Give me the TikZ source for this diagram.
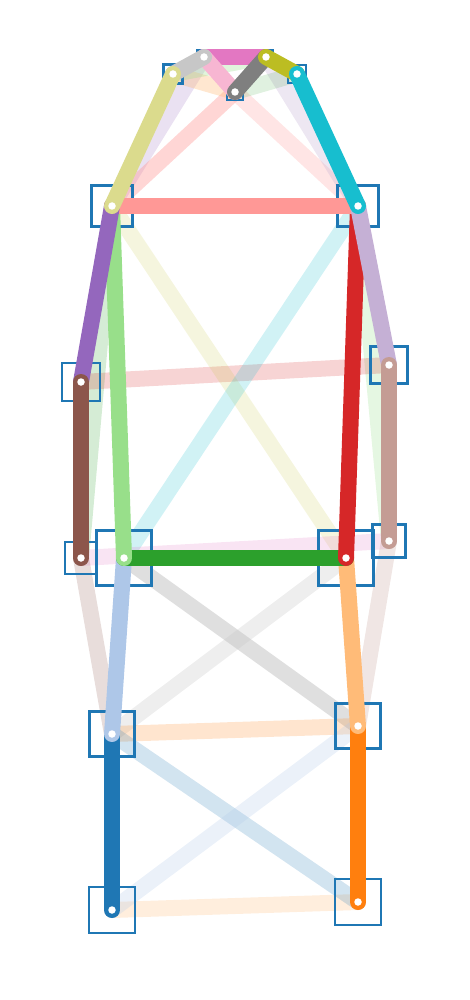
\documentclass[tikz,border=0pt]{standalone}
\definecolor{tblue}{HTML}{1F77B4}
\definecolor{tlblue}{HTML}{AEC7E8}
\definecolor{torange}{HTML}{FF7F0E}
\definecolor{tlorange}{HTML}{FFBB78}
\definecolor{tgreen}{HTML}{2CA02C}
\definecolor{tlgreen}{HTML}{98DF8A}
\definecolor{tred}{HTML}{D62728}
\definecolor{tlred}{HTML}{FF9896}
\definecolor{tpurple}{HTML}{9467BD}
\definecolor{tlpurple}{HTML}{C5B0D5}
\definecolor{tbrown}{HTML}{8C564B}
\definecolor{tlbrown}{HTML}{C49C94}
\definecolor{tpink}{HTML}{E377C2}
\definecolor{tlpink}{HTML}{F7B6D2}
\definecolor{tgray}{HTML}{7F7F7F}
\definecolor{tlgray}{HTML}{C7C7C7}
\definecolor{tolive}{HTML}{BCBD22}
\definecolor{tlolive}{HTML}{DBDB8D}
\definecolor{tcyan}{HTML}{17BECF}
\begin{document}
\begin{tikzpicture}[x=1pt,y=-1pt,
  limb/.style={line width=16pt,line cap=round},
  faint/.style={line width=16pt,line cap=round},
  kbox/.style={draw=tblue,line width=2.5pt,inner sep=0pt,rectangle},
  kdot/.style={circle,fill=white,inner sep=0pt,minimum size=7.5pt}]
\useasboundingbox (0,0) rectangle (469,1000);
% keypoints
\coordinate (nose) at (235,92);
\coordinate (ley) at (204,57);
\coordinate (rey) at (266,57);
\coordinate (lea) at (173,74);
\coordinate (rea) at (297,74);
\coordinate (lsh) at (112,206);
\coordinate (rsh) at (358,206);
\coordinate (lel) at (81,382);
\coordinate (rel) at (389,365);
\coordinate (lwr) at (81,558);
\coordinate (rwr) at (389,541);
\coordinate (lhp) at (124,558);
\coordinate (rhp) at (346,558);
\coordinate (lkn) at (112,734);
\coordinate (rkn) at (358,726);
\coordinate (lan) at (112,910);
\coordinate (ran) at (358,902);
% faint links
\draw[faint,draw=tpurple,draw opacity=0.2] (ley) -- (lsh);
\draw[faint,draw=tlred,draw opacity=0.4] (nose) -- (lsh);
\draw[faint,draw=tlred,draw opacity=0.25] (nose) -- (rsh);
\draw[faint,draw=tlpurple,draw opacity=0.3] (rey) -- (rsh);
\draw[faint,draw=tlorange,draw opacity=0.35] (lea) -- (nose);
\draw[faint,draw=tgreen,draw opacity=0.15] (nose) -- (rea);
\draw[faint,draw=tlgreen,draw opacity=0.3] (lea) -- (rey);
\draw[faint,draw=tgreen,draw opacity=0.2] (lsh) -- (lwr);
\draw[faint,draw=tlgreen,draw opacity=0.25] (rsh) -- (rwr);
\draw[faint,draw=tred,draw opacity=0.2] (lel) -- (rel);
\draw[faint,draw=tolive,draw opacity=0.15] (lsh) -- (rhp);
\draw[faint,draw=tcyan,draw opacity=0.2] (rsh) -- (lhp);
\draw[faint,draw=tpink,draw opacity=0.2] (lwr) -- (rwr);
\draw[faint,draw=tbrown,draw opacity=0.2] (lwr) -- (lkn);
\draw[faint,draw=tlbrown,draw opacity=0.25] (rwr) -- (rkn);
\draw[faint,draw=tgray,draw opacity=0.25] (lhp) -- (rkn);
\draw[faint,draw=tlgray,draw opacity=0.3] (rhp) -- (lkn);
\draw[faint,draw=torange,draw opacity=0.2] (lkn) -- (rkn);
\draw[faint,draw=tlorange,draw opacity=0.25] (lan) -- (ran);
\draw[faint,draw=tblue,draw opacity=0.2] (lkn) -- (ran);
\draw[faint,draw=tlblue,draw opacity=0.25] (lan) -- (rkn);
% boxes
\node[kbox,minimum size=16pt] (bnose) at (nose) {};
\node[kbox,minimum size=14pt] (bley) at (ley) {};
\node[kbox,minimum size=14pt] (brey) at (rey) {};
\node[kbox,minimum size=19pt] (blea) at (lea) {};
\node[kbox,minimum size=18pt] (brea) at (rea) {};
\node[kbox,minimum size=41pt] (blsh) at (lsh) {};
\node[kbox,minimum size=41pt] (brsh) at (rsh) {};
\node[kbox,minimum size=38pt] (blel) at (lel) {};
\node[kbox,minimum size=37pt] (brel) at (rel) {};
\node[kbox,minimum size=32pt] (blwr) at (lwr) {};
\node[kbox,minimum size=33pt] (brwr) at (rwr) {};
\node[kbox,minimum size=55pt] (blhp) at (lhp) {};
\node[kbox,minimum size=55pt] (brhp) at (rhp) {};
\node[kbox,minimum size=45pt] (blkn) at (lkn) {};
\node[kbox,minimum size=45pt] (brkn) at (rkn) {};
\node[kbox,minimum size=46pt] (blan) at (lan) {};
\node[kbox,minimum size=46pt] (bran) at (ran) {};
% limbs
\draw[limb,draw=tblue] (lan) -- (lkn);
\draw[limb,draw=tlblue] (lkn) -- (lhp);
\draw[limb,draw=torange] (ran) -- (rkn);
\draw[limb,draw=tlorange] (rkn) -- (rhp);
\draw[limb,draw=tgreen] (lhp) -- (rhp);
\draw[limb,draw=tlgreen] (lsh) -- (lhp);
\draw[limb,draw=tred] (rsh) -- (rhp);
\draw[limb,draw=tlred] (lsh) -- (rsh);
\draw[limb,draw=tpurple] (lsh) -- (lel);
\draw[limb,draw=tlpurple] (rsh) -- (rel);
\draw[limb,draw=tbrown] (lel) -- (lwr);
\draw[limb,draw=tlbrown] (rel) -- (rwr);
\draw[limb,draw=tpink] (ley) -- (rey);
\draw[limb,draw=tlpink] (nose) -- (ley);
\draw[limb,draw=tgray] (nose) -- (rey);
\draw[limb,draw=tlgray] (ley) -- (lea);
\draw[limb,draw=tolive] (rey) -- (rea);
\draw[limb,draw=tlolive] (lea) -- (lsh);
\draw[limb,draw=tcyan] (rea) -- (rsh);
% dots
\foreach \k in {nose,ley,rey,lea,rea,lsh,rsh,lel,rel,lwr,rwr,lhp,rhp,lkn,rkn,lan,ran}
  \node[kdot] (d\k) at (\k) {};
\end{tikzpicture}
\end{document}
